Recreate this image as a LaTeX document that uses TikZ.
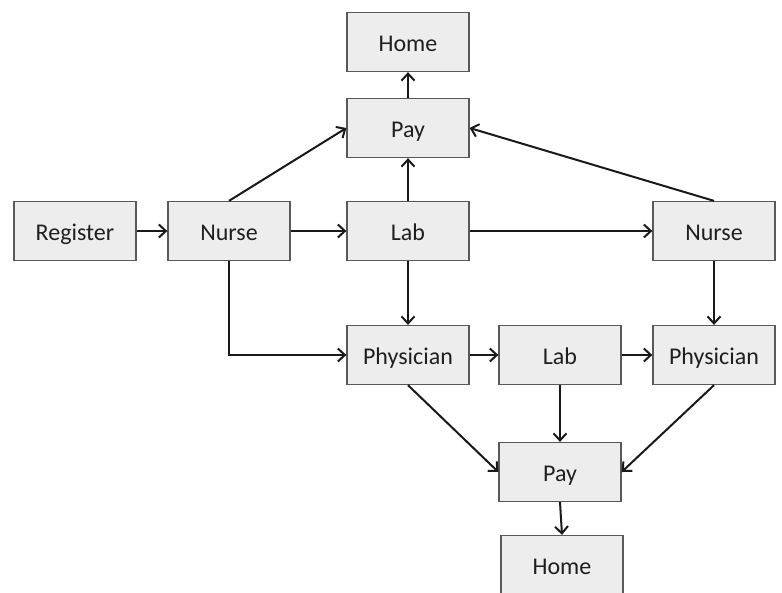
\documentclass[tikz,border=0pt]{standalone}
\usepackage{fontspec}
\setmainfont{Carlito}
\usetikzlibrary{arrows.meta}
\begin{document}
\begin{tikzpicture}[x=1pt,y=-1pt,
  box/.style={draw=black!65, fill=black!7, line width=1.3pt,
    minimum width=122pt, minimum height=59pt, inner sep=0pt,
    text height=22pt, text depth=3pt,
    font=\fontsize{24}{28}\selectfont, text=black!88},
  flow/.style={draw=black!90, line width=2pt,
    -{Straight Barb[length=7pt,width=13pt,line width=2pt]}}]
\useasboundingbox (0,0) rectangle (782,592);
% boxes
\node[box] (home1) at (408,42)  {Home};
\node[box] (pay1)  at (408,128) {Pay};
\node[box] (reg)   at (75,231)  {Register};
\node[box] (nurse1) at (229,231) {Nurse};
\node[box] (lab1)  at (408,231) {Lab};
\node[box] (nurse2) at (714,231) {Nurse};
\node[box] (phys1) at (408,355) {Physician};
\node[box] (lab2)  at (560,355) {Lab};
\node[box] (phys2) at (714,355) {Physician};
\node[box] (pay2)  at (560,472) {Pay};
\node[box] (home2) at (562,565) {Home};
% connectors
\draw[flow] (reg) -- (nurse1);
\draw[flow] (nurse1) -- (lab1);
\draw[flow] (nurse1.north) -- (pay1.west);
\draw[flow] (lab1) -- (pay1);
\draw[flow] (pay1) -- (home1);
\draw[flow] (lab1) -- (nurse2);
\draw[flow] (nurse2.north) -- (pay1.east);
\draw[flow] (nurse1.south) |- (phys1.west);
\draw[flow] (lab1) -- (phys1);
\draw[flow] (phys1) -- (lab2);
\draw[flow] (lab2) -- (phys2);
\draw[flow] (nurse2) -- (phys2);
\draw[flow] (phys1.south) -- (pay2.west);
\draw[flow] (lab2) -- (pay2);
\draw[flow] (phys2.south) -- (pay2.east);
\draw[flow] (pay2.south) -- (home2.north);
\end{tikzpicture}
\end{document}
